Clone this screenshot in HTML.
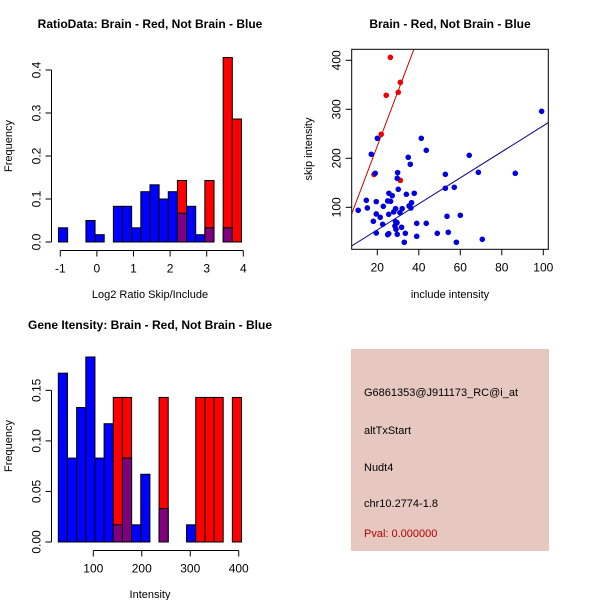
<!DOCTYPE html>
<html><head><meta charset="utf-8"><style>
body{margin:0;background:#fff;}
svg{display:block;font-family:"Liberation Sans",sans-serif;}
</style></head><body>
<svg id="c" width="600" height="600">
<rect width="600" height="600" fill="#fff"/>
<text x="150" y="28" text-anchor="middle" font-size="12" font-weight="bold">RatioData: Brain - Red, Not Brain - Blue</text>
<text x="450" y="28" text-anchor="middle" font-size="12" font-weight="bold">Brain - Red, Not Brain - Blue</text>
<text x="150" y="329" text-anchor="middle" font-size="12" font-weight="bold">Gene Itensity: Brain - Red, Not Brain - Blue</text>
<g id="p1"></g>
<g id="p2"></g>
<g id="p3"></g>
<g>
<rect x="351" y="349" width="198" height="202" fill="#e6c8c0"/>
<text x="364" y="396" font-size="11">G6861353@J911173_RC@i_at</text>
<text x="364" y="434" font-size="11">altTxStart</text>
<text x="364" y="471" font-size="11">Nudt4</text>
<text x="364" y="507" font-size="11">chr10.2774-1.8</text>
<text x="364" y="537" font-size="11" fill="#b00000">Pval: 0.000000</text>
</g>
</svg>
<script>
// Ratio histogram data
const ratioBinStart = -1.05;
const ratioBinWidth = 0.25;
const ratioBlue = [0.033,0,0,0.05,0.017,0,0.083,0.083,0.033,0.117,0.133,0.1,0.117,0.067,0.083,0.017,0.033,0,0.033,0];
const ratioRed  = [0,0,0,0,0,0,0,0,0,0,0,0,0,0.143,0,0,0.143,0,0.429,0.286];
const ratioXTicks = [-1,0,1,2,3,4];
const ratioYTicks = ["0.0","0.1","0.2","0.3","0.4"];
// Intensity histogram data
const intBinStart = 27.8;
const intBinWidth = 18.9;
const intBlue = [0.167,0.083,0.133,0.183,0.083,0.117,0.017,0.083,0.017,0.067,0,0.033,0,0,0.017,0,0,0,0,0];
const intRed  = [0,0,0,0,0,0,0.143,0.143,0,0,0,0.143,0,0,0,0.143,0.143,0.143,0,0.143];
const intXTicks = [100,200,300,400];
const intYTicks = ["0.00","0.05","0.10","0.15"];
// Scatter data
const blueX = [10.8,14.7,15.2,19.5,18.1,19.5,21.4,22.6,19.5,20,17.1,19.0,22.9,25.0,25.5,25.6,26.4,27.2,25.0,25.5,27.9,28.8,29.8,29.6,30.1,28.8,29.5,28.5,29.0,29.6,30.9,31.7,32.0,33.5,33.0,34.0,34.9,35.9,35.3,36.5,36.2,37.8,39.0,39.0,41.2,43.6,43.6,48.9,52.8,52.8,53.6,54.2,57.1,58.1,60.0,64.3,68.7,70.6,86.5,99.2];
const blueY = [93.9,114.3,98.6,111.6,71.4,86.4,79.6,65.3,47.6,240.8,208.2,169.4,102,112.9,85.7,128.6,112.2,123.8,44.2,46.3,90.5,97.3,170.7,159.2,136.7,70.7,68.7,61.9,55.1,44.9,89.1,59.2,97.3,46.9,28.6,126.5,202,187.8,102.7,109.5,98.6,128.6,67.3,40.8,240.8,216.3,67.3,46.9,167.3,138.8,81.6,49.0,140.8,28.6,83.7,206.1,171.4,34.7,169.4,295.9];
const redX = [26.3,24.3,30.1,31.1,21.9,18.4,31.1];
const redY = [406,328.6,334.7,355,249,167,155];
const redFit = [1,11.2];
const blueFit = [0.8,2.656];
const scXTicks = [20,40,60,80,100];
const scYTicks = [100,200,300,400];

const NS="http://www.w3.org/2000/svg";
function mk(parent,tag,attrs){const e=document.createElementNS(NS,tag);for(const k in attrs)e.setAttribute(k,attrs[k]);parent.appendChild(e);return e;}

function hist(g,o){
  const sx=v=>o.x0px+(v-o.x0)*o.kx, sy=v=>o.base-v*o.ky;
  for(let i=0;i<o.blue.length;i++){
    const a=o.bs+i*o.bw,b=a+o.bw,bl=o.blue[i],rd=o.red[i];
    const hi=Math.max(bl,rd), lo=Math.min(bl,rd);
    if(hi<=0)continue;
    const r=mk(g,'rect',{x:sx(a),y:sy(hi),width:sx(b)-sx(a),height:sy(0)-sy(hi),fill:rd>bl?'#ff0000':'#0000ff',stroke:'#000','stroke-width':1});
    
    
    if(lo>0){
      const p=mk(g,'rect',{x:sx(a),y:sy(lo),width:sx(b)-sx(a),height:sy(0)-sy(lo),fill:'#7f007f',stroke:'#000','stroke-width':1});
      
      
    }
  }
  const xa=mk(g,'g',{});
  
  
  const t0=o.xt[0],t1=o.xt[o.xt.length-1];
  mk(xa,'line',{x1:sx(t0),x2:sx(t1),y1:o.axy,y2:o.axy,stroke:'#000'});
  o.xt.forEach(t=>{mk(xa,'line',{x1:sx(t),x2:sx(t),y1:o.axy,y2:o.axy+6,stroke:'#000'});
    const tx=mk(xa,'text',{x:sx(t),y:o.axy+22,'text-anchor':'middle','font-size':12});tx.textContent=t;});
  const ya=mk(g,'g',{});
  
  
  const yv=o.yt.map(Number);
  mk(ya,'line',{x1:o.axx,x2:o.axx,y1:sy(yv[0]),y2:sy(yv[yv.length-1]),stroke:'#000'});
  o.yt.forEach(t=>{const y=sy(Number(t));mk(ya,'line',{x1:o.axx-6,x2:o.axx,y1:y,y2:y,stroke:'#000'});
    const tx=mk(ya,'text',{x:0,y:0,'text-anchor':'middle','font-size':12,transform:`translate(${o.axx-11},${y}) rotate(-90)`});tx.textContent=t;});
  const xl=mk(g,'text',{x:o.xlx,y:o.xly,'text-anchor':'middle','font-size':11});xl.textContent=o.xlab;
  
  
  const yl=mk(g,'text',{x:0,y:0,'text-anchor':'middle','font-size':11,transform:`translate(12,${o.yly}) rotate(-90)`});yl.textContent='Frequency';
  
  
}
hist(document.getElementById('p1'),{blue:ratioBlue,red:ratioRed,bs:ratioBinStart,bw:ratioBinWidth,x0:-1,x0px:60.3,kx:36.6,base:242,ky:430,xt:ratioXTicks,yt:ratioYTicks,axy:250.5,axx:51.5,xlab:'Log2 Ratio Skip/Include',xlx:150,xly:298,yly:146});
hist(document.getElementById('p3'),{blue:intBlue,red:intRed,bs:intBinStart,bw:intBinWidth,x0:100,x0px:93.3,kx:0.4847,base:542,ky:1011,xt:intXTicks,yt:intYTicks,axy:550.5,axx:51.5,xlab:'Intensity',xlx:150,xly:598,yly:446});

// scatter
(function(){
  const g=document.getElementById('p2');
  const L=351.7,R=548.3,T=49.3,B=249.3;
  const sx=v=>377.3+(v-20)*2.075, sy=v=>207.3-(v-100)*0.49;
  const cp=mk(g,'clipPath',{id:'clp'});mk(cp,'rect',{x:L,y:T,width:R-L,height:B-T});
  const lines=mk(g,'g',{'clip-path':'url(#clp)'});
  const x0=5,x1=110;
  const rl=mk(lines,'line',{x1:sx(x0),y1:sy(redFit[0]+redFit[1]*x0),x2:sx(x1),y2:sy(redFit[0]+redFit[1]*x1),stroke:'#cc0000'});
  
  
  const bln=mk(lines,'line',{x1:sx(x0),y1:sy(blueFit[0]+blueFit[1]*x0),x2:sx(x1),y2:sy(blueFit[0]+blueFit[1]*x1),stroke:'#00008b'});
  
  
  for(let i=0;i<redX.length;i++){const c=mk(g,'circle',{cx:sx(redX[i]),cy:sy(redY[i]),r:2.8,fill:'#ee0000'});
    
    }
  for(let i=0;i<blueX.length;i++){const c=mk(g,'circle',{cx:sx(blueX[i]),cy:sy(blueY[i]),r:2.8,fill:'#0000dd'});
    
    }
  mk(g,'rect',{x:L,y:T,width:R-L,height:B-T,fill:'none',stroke:'#000'});
  scXTicks.forEach(t=>{mk(g,'line',{x1:sx(t),x2:sx(t),y1:B,y2:B+6,stroke:'#000'});
    const tx=mk(g,'text',{x:sx(t),y:B+22,'text-anchor':'middle','font-size':12});tx.textContent=t;});
  scYTicks.forEach(t=>{mk(g,'line',{x1:L-6,x2:L,y1:sy(t),y2:sy(t),stroke:'#000'});
    const tx=mk(g,'text',{x:0,y:0,'text-anchor':'middle','font-size':12,transform:`translate(${L-11},${sy(t)}) rotate(-90)`});tx.textContent=t;});
  const xl=mk(g,'text',{x:450,y:298,'text-anchor':'middle','font-size':11});xl.textContent='include intensity';
  
  
  const yl=mk(g,'text',{x:0,y:0,'text-anchor':'middle','font-size':11,transform:'translate(312,149) rotate(-90)'});yl.textContent='skip intensity';
  
  
})();
</script>
</body></html>
